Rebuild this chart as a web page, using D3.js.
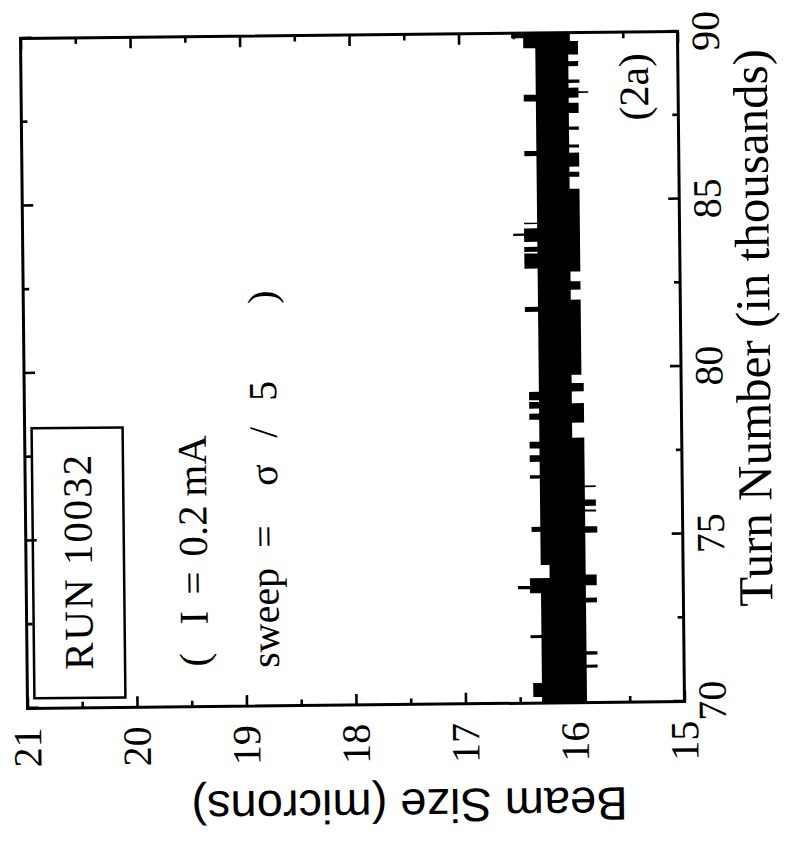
<!DOCTYPE html>
<html>
<head>
<meta charset="utf-8">
<script src="https://cdn.jsdelivr.net/npm/d3@7"></script>
<style>
  body { margin: 0; background: #fff; }
  svg { display: block; }
</style>
</head>
<body>
<svg id="chart" width="785" height="842"></svg>
<script>
// beam size envelope: band edges between breakpoints (step after)
const turnBreaks = [70.00, 70.18, 70.60, 71.04, 71.13, 71.43, 71.53, 71.94, 72.03, 72.99,
  73.13, 73.28, 73.40, 73.50, 73.73, 73.82, 74.12, 75.07, 75.11, 75.26,
  75.70, 75.76, 75.87, 76.06, 76.43, 76.48, 76.70, 76.80, 77.20, 77.40,
  77.60, 77.80, 77.91, 78.36, 78.46, 78.64, 78.79, 78.94, 78.99, 79.04,
  79.29, 79.54, 79.79, 81.68, 81.83, 82.03, 82.33, 82.58, 82.87, 82.97,
  83.42, 83.47, 83.62, 83.77, 83.95, 84.02, 84.17, 84.30, 84.34, 85.34,
  85.70, 85.85, 86.00, 86.33, 86.42, 86.48, 86.57, 86.66, 87.10, 87.20,
  87.60, 87.91, 87.96, 88.06, 88.16, 88.20, 88.25, 88.36, 88.50, 88.60,
  89.00, 89.15, 89.35, 89.55, 89.75, 89.85, 90.00];
const beamHigh = [16.30, 16.38, 16.30, 16.30, 16.30, 16.30, 16.30, 16.40, 16.30, 16.30,
  16.30, 16.40, 16.51, 16.40, 16.22, 16.22, 16.30, 16.30, 16.38, 16.30,
  16.30, 16.30, 16.30, 16.30, 16.30, 16.30, 16.39, 16.30, 16.39, 16.30,
  16.39, 16.30, 16.30, 16.30, 16.39, 16.30, 16.39, 16.39, 16.30, 16.39,
  16.30, 16.30, 16.30, 16.42, 16.30, 16.30, 16.30, 16.30, 16.30, 16.42,
  16.30, 16.42, 16.30, 16.42, 16.52, 16.42, 16.30, 16.42, 16.30, 16.30,
  16.30, 16.30, 16.30, 16.41, 16.41, 16.30, 16.30, 16.30, 16.30, 16.30,
  16.30, 16.30, 16.41, 16.41, 16.30, 16.30, 16.30, 16.30, 16.30, 16.30,
  16.30, 16.30, 16.30, 16.41, 16.41, 16.52, 16.52];
const beamLow = [15.89, 15.89, 15.89, 15.79, 15.89, 15.79, 15.89, 15.89, 15.89, 15.79,
  15.89, 15.89, 15.89, 15.79, 15.79, 15.89, 15.89, 15.78, 15.78, 15.89,
  15.79, 15.89, 15.79, 15.89, 15.79, 15.89, 15.89, 15.89, 15.89, 15.89,
  15.89, 15.89, 16.00, 15.89, 15.89, 15.89, 15.89, 16.00, 16.00, 16.00,
  15.89, 16.00, 15.91, 15.91, 15.91, 16.00, 15.91, 16.00, 15.91, 15.91,
  15.91, 15.91, 15.91, 15.91, 15.91, 15.91, 15.91, 15.91, 15.91, 16.00,
  15.91, 16.00, 15.91, 15.91, 16.00, 16.00, 15.91, 16.00, 15.91, 16.00,
  15.91, 16.00, 16.00, 15.91, 15.91, 15.82, 15.91, 16.00, 15.90, 16.00,
  15.91, 16.00, 15.91, 15.91, 16.00, 16.00, 16.00];

const xMajor = [70, 75, 80, 85, 90];
const xMinor = [72.5, 77.5, 82.5, 87.5];
const yMajor = [15, 16, 17, 18, 19, 20, 21];
const yMinor = [15.5, 16.5, 17.5, 18.5, 19.5, 20.5];

const W = 670, H = 657;
const serif = "'Liberation Serif', 'Times New Roman', serif";

const svg = d3.select("#chart");
svg.append("rect").attr("width", 785).attr("height", 842).attr("fill", "#fff");

// the printed page is turned a quarter left and scanned slightly askew
const g = svg.append("g")
  .attr("transform", "rotate(-0.6, 352, 370) translate(24,705) rotate(-90)");

const x = d3.scaleLinear().domain([70, 90]).range([0, W]);
const y = d3.scaleLinear().domain([15, 21]).range([H, 0]);

var band = d3.zip(turnBreaks, beamHigh, beamLow).map(d => ({t: d[0], hi: d[1], lo: d[2]}));

g.append("path")
  .datum(band)
  .attr("fill", "#000")
  .attr("d", d3.area()
    .curve(d3.curveStepAfter)
    .x(d => x(d.t))
    .y0(d => y(d.lo))
    .y1(d => y(d.hi)));

function styleAxis(sel) {
  sel.select(".domain").remove();
  sel.selectAll(".tick line").attr("stroke", "#000").attr("stroke-width", 2.6);
  sel.selectAll(".tick text")
    .attr("fill", "#000")
    .style("font-family", serif)
    .style("font-size", "40px");
}

const fmt = d3.format("d");

g.append("g").attr("transform", `translate(0,${H})`)
  .call(d3.axisBottom(x).tickValues(xMajor).tickFormat(fmt).tickSize(-11).tickSizeOuter(0).tickPadding(13))
  .call(styleAxis);
g.append("g").attr("transform", `translate(0,${H})`)
  .call(d3.axisBottom(x).tickValues(xMinor).tickSize(-6).tickSizeOuter(0).tickFormat(""))
  .call(styleAxis);
g.append("g")
  .call(d3.axisTop(x).tickValues(xMajor).tickSize(-11).tickSizeOuter(0).tickFormat(""))
  .call(styleAxis);
g.append("g")
  .call(d3.axisTop(x).tickValues(xMinor).tickSize(-6).tickSizeOuter(0).tickFormat(""))
  .call(styleAxis);

g.append("g")
  .call(d3.axisLeft(y).tickValues(yMajor).tickFormat(fmt).tickSize(-11).tickSizeOuter(0).tickPadding(19))
  .call(styleAxis);
g.append("g")
  .call(d3.axisLeft(y).tickValues(yMinor).tickSize(-6).tickSizeOuter(0).tickFormat(""))
  .call(styleAxis);
g.append("g").attr("transform", `translate(${W},0)`)
  .call(d3.axisRight(y).tickValues(yMajor).tickSize(-11).tickSizeOuter(0).tickFormat(""))
  .call(styleAxis);
g.append("g").attr("transform", `translate(${W},0)`)
  .call(d3.axisRight(y).tickValues(yMinor).tickSize(-6).tickSizeOuter(0).tickFormat(""))
  .call(styleAxis);

// frame
g.append("rect")
  .attr("width", W).attr("height", H)
  .attr("fill", "none").attr("stroke", "#000").attr("stroke-width", 3);

// axis titles
g.append("text")
  .attr("x", 373).attr("y", 746)
  .attr("text-anchor", "middle")
  .style("font-family", serif).style("font-size", "49px")
  .text("Turn Number (in thousands)");

g.append("text")
  .attr("transform", "translate(-85,381) rotate(-90)")
  .attr("text-anchor", "middle")
  .style("font-family", "'Liberation Sans', Arial, sans-serif").style("font-size", "47px")
  .text("Beam Size (microns)");

// run box and notes
g.append("rect")
  .attr("x", 10).attr("y", 7).attr("width", 270).attr("height", 91)
  .attr("fill", "none").attr("stroke", "#000").attr("stroke-width", 2.5);

g.append("text")
  .attr("x", 38).attr("y", 66)
  .attr("textLength", 215).attr("lengthAdjust", "spacing")
  .style("font-family", serif).style("font-size", "41px")
  .text("RUN 10032");

// the notes were typeset with wide gaps, so each piece sits where it was printed
function note(pieces, baseline, size) {
  var t = g.append("text")
    .attr("y", baseline)
    .style("font-family", serif).style("font-size", size + "px");
  pieces.forEach(p => t.append("tspan").attr("x", p[0]).text(p[1]));
}

note([[40, "("], [82, "I"], [112, "="], [150, "0.2"], [210, "mA"]], 181, 41);
note([[38, "sweep"], [158, "="], [220, "σ"], [268, "/"], [305, "5"], [402, ")"]], 252, 40);

g.append("text")
  .attr("x", 649).attr("y", 627)
  .attr("text-anchor", "end")
  .style("font-family", serif).style("font-size", "42px")
  .text("(2a)");
</script>
</body>
</html>
